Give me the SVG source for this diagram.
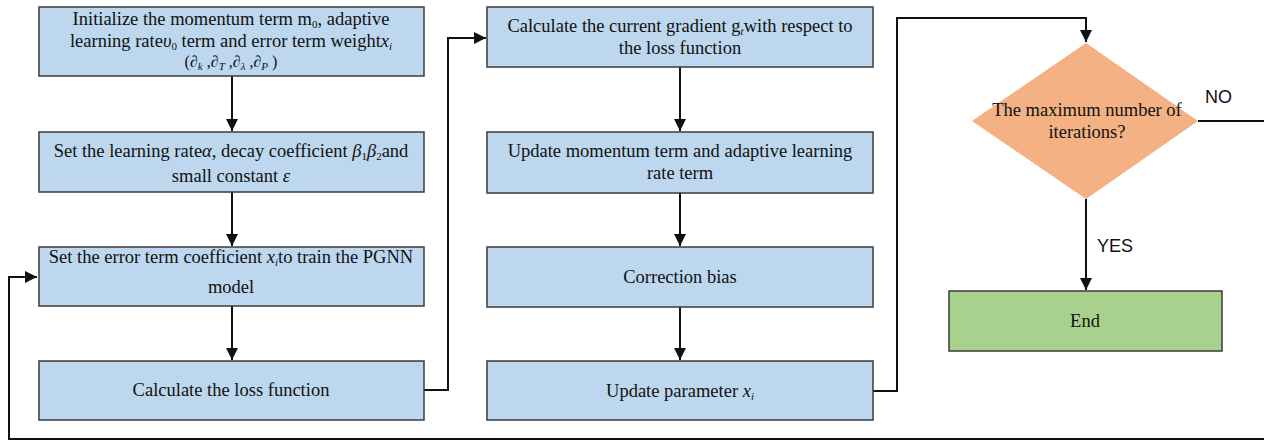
<svg xmlns="http://www.w3.org/2000/svg" width="1264" height="441" viewBox="0 0 1264 441">
<style>
.box{fill:#BDD7EE;stroke:#3a3a3a;stroke-width:1.5}
.dia{fill:#F4B183;stroke:none}
.end{fill:#A9D18E;stroke:#3a3a3a;stroke-width:1.5}
.t{font-family:"Liberation Serif","Times New Roman",serif;font-size:18.5px;fill:#111;text-anchor:middle}
.i{font-style:italic}
.s{font-size:11px}
.lbl{font-family:"Liberation Sans",Arial,sans-serif;font-size:18px;fill:#111}
.c{fill:none;stroke:#111;stroke-width:2}
</style>
<defs>
<marker id="arr" markerUnits="userSpaceOnUse" markerWidth="14" markerHeight="14" refX="12" refY="6" orient="auto">
<path d="M0,0 L12,6 L0,12 z" fill="#111"/>
</marker>
</defs>
<g id="connectors">
<path class="c" d="M232,76 V131" marker-end="url(#arr)"/>
<path class="c" d="M232,192 V246" marker-end="url(#arr)"/>
<path class="c" d="M232,306 V360" marker-end="url(#arr)"/>
<path class="c" d="M424,390 H448 V38 H486" marker-end="url(#arr)"/>
<path class="c" d="M680,67 V131" marker-end="url(#arr)"/>
<path class="c" d="M680,193 V246" marker-end="url(#arr)"/>
<path class="c" d="M680,307 V360" marker-end="url(#arr)"/>
<path class="c" d="M873,391 H897 V18 H1086 V42" marker-end="url(#arr)"/>
<path class="c" d="M1086,199 V290" marker-end="url(#arr)"/>
<path class="c" d="M1198,121 H1268 V439 H9 V277 H37" marker-end="url(#arr)"/>
<text class="lbl" x="1205" y="103">NO</text>
<text class="lbl" x="1097" y="252">YES</text>
</g>
<g id="n1">
<rect class="box" x="39" y="7" width="385" height="69"/>
<text class="t" x="231" y="25">Initialize the momentum term m<tspan class="s" dy="3">0</tspan><tspan dy="-3">, adaptive</tspan></text>
<text class="t" x="231" y="47">learning rate<tspan class="i">υ</tspan><tspan class="s" dy="3">0</tspan><tspan dy="-3"> term and error term weight</tspan><tspan class="i">x</tspan><tspan class="s i" dy="3">i</tspan></text>
<text class="t" x="231" y="67" style="font-size:16px">(<tspan class="i">∂</tspan><tspan class="s i" dy="3">k</tspan><tspan dy="-3"> ,</tspan><tspan class="i">∂</tspan><tspan class="s i" dy="3">T</tspan><tspan dy="-3"> ,</tspan><tspan class="i">∂</tspan><tspan class="s i" dy="3">λ</tspan><tspan dy="-3"> ,</tspan><tspan class="i">∂</tspan><tspan class="s i" dy="3">P</tspan><tspan dy="-3"> )</tspan></text>
</g>
<g id="n2">
<rect class="box" x="39" y="132" width="385" height="60"/>
<text class="t" x="231" y="157">Set the learning rate<tspan class="i">α</tspan>, decay coefficient <tspan class="i">β</tspan><tspan class="s" dy="3">1</tspan><tspan class="i" dy="-3">β</tspan><tspan class="s" dy="3">2</tspan><tspan dy="-3">and</tspan></text>
<text class="t" x="231" y="182">small constant <tspan class="i">ε</tspan></text>
</g>
<g id="n3">
<rect class="box" x="39" y="247" width="385" height="59"/>
<text class="t" x="231" y="263">Set the error term coefficient <tspan class="i">x</tspan><tspan class="s i" dy="3">i</tspan><tspan dy="-3">to train the PGNN</tspan></text>
<text class="t" x="231" y="293">model</text>
</g>
<g id="n4">
<rect class="box" x="39" y="361" width="385" height="59"/>
<text class="t" x="231" y="396">Calculate the loss function</text>
</g>
<g id="m1">
<rect class="box" x="487" y="7" width="386" height="60"/>
<text class="t" x="680" y="32">Calculate the current gradient g<tspan class="s i" dy="3">t</tspan><tspan dy="-3">with respect to</tspan></text>
<text class="t" x="680" y="54">the loss function</text>
</g>
<g id="m2">
<rect class="box" x="487" y="132" width="386" height="61"/>
<text class="t" x="680" y="157">Update momentum term and adaptive learning</text>
<text class="t" x="680" y="179">rate term</text>
</g>
<g id="m3">
<rect class="box" x="487" y="247" width="386" height="60"/>
<text class="t" x="680" y="283">Correction bias</text>
</g>
<g id="m4">
<rect class="box" x="487" y="361" width="386" height="59"/>
<text class="t" x="680" y="397">Update parameter <tspan class="i">x</tspan><tspan class="s i" dy="3">i</tspan></text>
</g>
<g id="decision">
<polygon class="dia" points="1086,43 1198,121 1086,199 972,121"/>
<text class="t" x="1087" y="116">The maximum number of</text>
<text class="t" x="1087" y="138">iterations?</text>
</g>
<g id="end">
<rect class="end" x="949" y="291" width="273" height="60"/>
<text class="t" x="1085" y="327">End</text>
</g>
</svg>
